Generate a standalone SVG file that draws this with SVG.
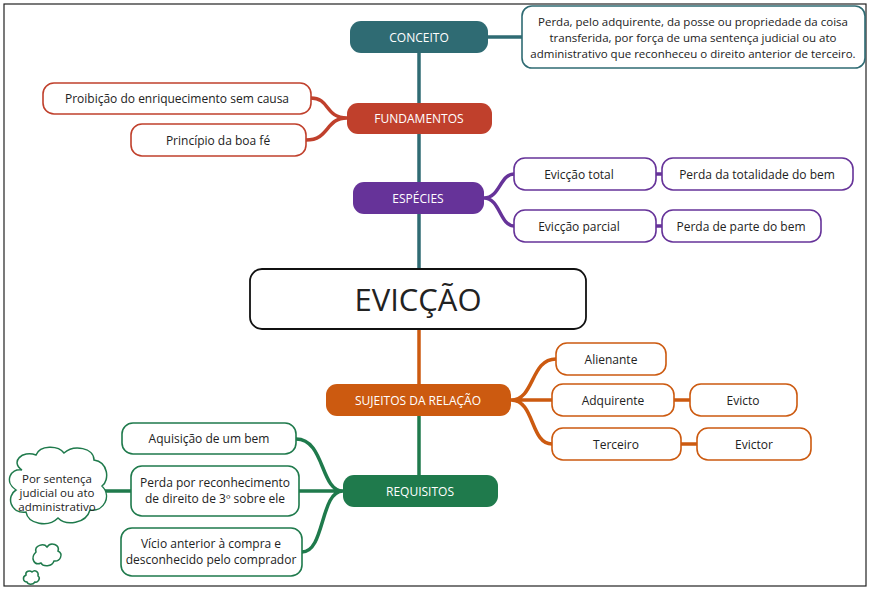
<svg xmlns="http://www.w3.org/2000/svg" width="871" height="592" viewBox="0 0 871 592">
<style>
text{font-family:"Open Sans","Liberation Sans",sans-serif;font-size:12px;fill:#222;text-anchor:middle;dominant-baseline:central;stroke:none}
.h{fill:#fff;font-size:12px}
.s{font-size:11.5px}
.b{fill:#fff;stroke-width:1.6}
.c{fill:none;stroke-width:3.5}
</style>
<rect width="871" height="592" fill="#fff"/>
<rect x="4" y="4" width="862" height="582" fill="none" stroke="#222" stroke-width="1.2"/>
<g id="connectors">
<path class="c" stroke="#2f6b73" d="M419 37V270"/>
<path class="c" stroke="#cc5a10" d="M419 329V400"/>
<path class="c" stroke="#1f7a4c" d="M419 416V491"/>
<path class="c" stroke="#2f6b73" d="M488 37C505 37 505 37 522 37"/>
<path class="c" stroke="#c0402c" d="M347 118C325 118 330 98 311 98M347 118C325 118 330 140 306 140"/>
<path class="c" stroke="#663399" d="M484 198C500 198 500 174 514 174M484 198C500 198 500 226 514 226M656 174H662M656 226H662"/>
<path class="c" stroke="#cc5a10" d="M511 400C535 400 530 359 556 359M511 400H552M511 400C535 400 530 444 552 444M674 400H690M681 444H697"/>
<path class="c" stroke="#1f7a4c" d="M343 491C320 491 325 439 296 439M343 491H299M343 491C320 491 325 552 302 552M131 491H105"/>
</g>
<g id="conceito"><rect x="350" y="21" width="138" height="32" rx="11" fill="#2f6b73"/><text class="h" x="419" y="37">CONCEITO</text></g>
<g id="conceito-def"><rect class="b" x="522" y="6" width="343" height="62" rx="10" stroke="#2f6b73"/>
<text class="s" x="693" y="21">Perda, pelo adquirente, da posse ou propriedade da coisa</text>
<text class="s" x="693" y="37">transferida, por força de uma sentença judicial ou ato</text>
<text class="s" x="693" y="53">administrativo que reconheceu o direito anterior de terceiro.</text></g>
<g id="fundamentos"><rect x="347" y="103" width="145" height="31" rx="11" fill="#c0402c"/><text class="h" x="419" y="118">FUNDAMENTOS</text></g>
<g id="proibicao"><rect class="b" x="43" y="83" width="268" height="31" rx="11" stroke="#c0402c"/><text x="177" y="98">Proibição do enriquecimento sem causa</text></g>
<g id="principio"><rect class="b" x="131" y="124" width="175" height="32" rx="11" stroke="#c0402c"/><text x="218" y="140">Princípio da boa fé</text></g>
<g id="especies"><rect x="353" y="182" width="131" height="32" rx="11" fill="#663399"/><text class="h" x="418" y="198">ESPÉCIES</text></g>
<g id="ev-total"><rect class="b" x="514" y="158" width="142" height="32" rx="11" stroke="#663399"/><text x="579" y="174">Evicção total</text></g>
<g id="perda-total"><rect class="b" x="662" y="158" width="191" height="32" rx="11" stroke="#663399"/><text x="757" y="174">Perda da totalidade do bem</text></g>
<g id="ev-parcial"><rect class="b" x="514" y="210" width="142" height="32" rx="11" stroke="#663399"/><text x="579" y="226">Evicção parcial</text></g>
<g id="perda-parte"><rect class="b" x="662" y="210" width="159" height="32" rx="11" stroke="#663399"/><text x="741" y="226">Perda de parte do bem</text></g>
<g id="eviccao"><rect x="250" y="269" width="336" height="60" rx="12" fill="#fff" stroke="#111" stroke-width="1.8"/><text x="418" y="299" style="font-size:31px">EVICÇÃO</text></g>
<g id="sujeitos"><rect x="326" y="384" width="185" height="32" rx="11" fill="#cc5a10"/><text class="h" x="418" y="400">SUJEITOS DA RELAÇÃO</text></g>
<g id="alienante"><rect class="b" x="556" y="343" width="110" height="32" rx="11" stroke="#cc5a10"/><text x="611" y="359">Alienante</text></g>
<g id="adquirente"><rect class="b" x="552" y="384" width="122" height="32" rx="11" stroke="#cc5a10"/><text x="613" y="400">Adquirente</text></g>
<g id="evicto"><rect class="b" x="690" y="384" width="107" height="32" rx="11" stroke="#cc5a10"/><text x="743" y="400">Evicto</text></g>
<g id="terceiro"><rect class="b" x="552" y="428" width="129" height="32" rx="11" stroke="#cc5a10"/><text x="616" y="444">Terceiro</text></g>
<g id="evictor"><rect class="b" x="697" y="428" width="114" height="32" rx="11" stroke="#cc5a10"/><text x="754" y="444">Evictor</text></g>
<g id="requisitos"><rect x="343" y="475" width="155" height="32" rx="11" fill="#1f7a4c"/><text class="h" x="420" y="491">REQUISITOS</text></g>
<g id="aquisicao"><rect class="b" x="122" y="423" width="174" height="31" rx="11" stroke="#1f7a4c"/><text x="209" y="438">Aquisição de um bem</text></g>
<g id="perda-rec"><rect class="b" x="131" y="466" width="168" height="50" rx="11" stroke="#1f7a4c"/><text x="215" y="482">Perda por reconhecimento</text><text x="215" y="498">de direito de 3º sobre ele</text></g>
<g id="vicio"><rect class="b" x="121" y="528" width="181" height="48" rx="11" stroke="#1f7a4c"/><text x="211" y="543">Vício anterior à compra e</text><text x="211" y="559">desconhecido pelo comprador</text></g>
<g id="nuvem">
<g fill="#fff" stroke="#1f7a4c" stroke-width="1.5">
<path d="M22 470C10 462 22 450 36 455C40 445 58 445 64 453C74 444 94 448 94 460C108 462 110 480 102 486C112 496 104 512 90 510C86 524 66 526 58 518C48 528 28 524 26 512C10 514 6 496 16 490C4 482 10 468 22 470Z"/>
<path d="M36 552C34 545 44 543 47 547C51 541 60 545 58 551C64 554 60 562 54 561C52 567 43 567 41 563C34 566 30 558 36 552Z"/>
<path d="M26 575C25 571 30 570 32 572C35 569 39 572 38 576C41 578 38 583 35 582C33 585 28 585 27 582C23 582 22 577 26 575Z"/>
</g>
<text class="s" x="57" y="478">Por sentença</text><text class="s" x="57" y="492">judicial ou ato</text><text class="s" x="57" y="506">administrativo</text>
</g>
</svg>
